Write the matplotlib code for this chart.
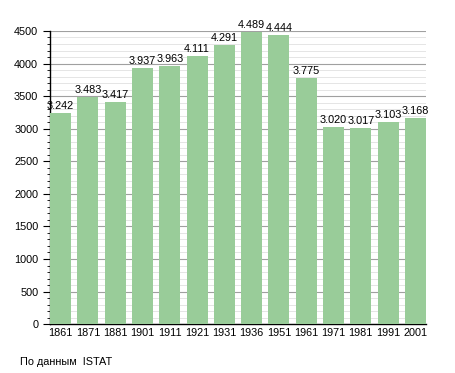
import numpy as np
import matplotlib.pyplot as plt
from matplotlib.ticker import MultipleLocator

plt.rcParams['font.family'] = ['Liberation Sans', 'DejaVu Sans']

years = ['1861', '1871', '1881', '1901', '1911', '1921', '1931',
         '1936', '1951', '1961', '1971', '1981', '1991', '2001']
pop = [3242, 3483, 3417, 3937, 3963, 4111, 4291,
       4489, 4444, 3775, 3020, 3017, 3103, 3168]
labels = ['3.242', '3.483', '3.417', '3.937', '3.963', '4.111', '4.291',
          '4.489', '4.444', '3.775', '3.020', '3.017', '3.103', '3.168']

fig = plt.figure(figsize=(4.55, 3.73), dpi=100)
ax = fig.add_axes([0.110, 0.131, 0.826, 0.786])

x = np.arange(len(years))
w = 0.77
ax.bar(x, pop, width=w, color='#99cc99', zorder=3)
for xi, v, lab in zip(x, pop, labels):
    ax.text(xi, v + 30, lab, ha='center', va='bottom', fontsize=7.8, zorder=4)

ax.set_xlim(-w / 2, len(years) - 1 + w / 2)
ax.set_ylim(0, 4500)
ax.yaxis.set_major_locator(MultipleLocator(500))
ax.yaxis.set_minor_locator(MultipleLocator(100))
ax.set_xticks(x)
ax.set_xticklabels(years)
ax.tick_params(axis='x', length=0, labelsize=7.8, pad=3)
ax.tick_params(axis='y', which='major', length=5, labelsize=7.8, width=0.8)
ax.tick_params(axis='y', which='minor', length=2.5, width=0.6)

ax.grid(axis='y', which='major', color='#a0a0a0', linewidth=0.8, zorder=0)
ax.grid(axis='y', which='minor', color='#e0e0e0', linewidth=0.6, zorder=0)
ax.set_axisbelow(True)

for s in ['top', 'right']:
    ax.spines[s].set_visible(False)
ax.spines['left'].set_linewidth(1.0)
ax.spines['bottom'].set_linewidth(1.0)

fig.text(20 / 455, 1 - 362 / 373, 'По данным  ISTAT', fontsize=7.8, va='center')

fig.savefig('out.png', dpi=100)
